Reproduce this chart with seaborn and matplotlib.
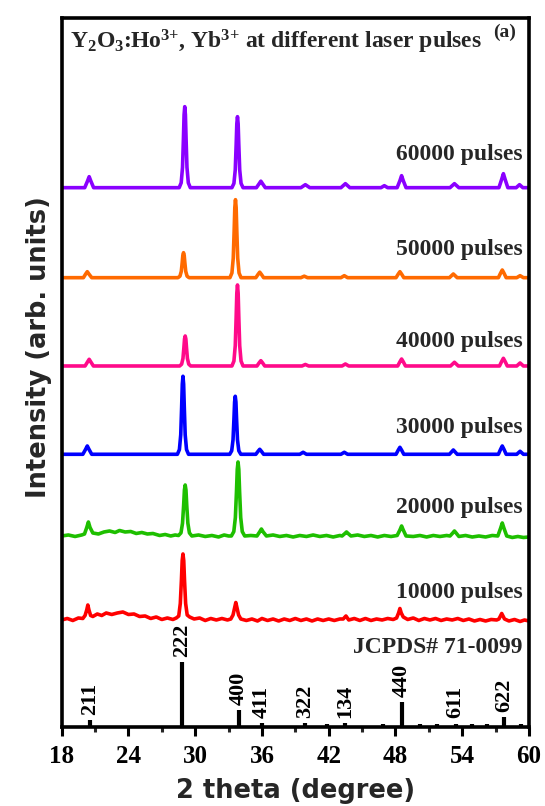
import matplotlib
matplotlib.use('Agg')
import matplotlib.pyplot as plt
import pandas as pd
import seaborn as sns

# ---------------- data ----------------
SERIES = ['60000 pulses', '50000 pulses', '40000 pulses',
          '30000 pulses', '20000 pulses', '10000 pulses']
COLORS = ['#8A00FF', '#FF6A00', '#FF0A8A', '#0000FF', '#1EBF00', '#FF0000']

# (2theta, intensity above the pattern's own baseline), arb. units
P60 = [(18.0, 0), (20.07, 0), (20.32, 6.6), (20.47, 11), (20.62, 6.6), (20.87, 0),
       (28.56, 0), (28.74, 4.9), (28.86, 20.3), (28.94, 48.6), (29.0, 72.9), (29.06, 81),
       (29.12, 72.9), (29.18, 48.6), (29.26, 20.3), (29.38, 4.9), (29.56, 0),
       (33.3, 0), (33.48, 4.3), (33.6, 17.8), (33.68, 42.6), (33.74, 63.9), (33.8, 71),
       (33.86, 63.9), (33.92, 42.6), (34.0, 17.8), (34.12, 4.3), (34.3, 0),
       (35.5, 0), (35.75, 4), (35.9, 6.5), (36.05, 4), (36.3, 0),
       (39.5, 0), (39.9, 3), (40.3, 0), (43.1, 0), (43.5, 4), (43.9, 0),
       (46.7, 0), (47.0, 2), (47.3, 0),
       (48.15, 0), (48.4, 7), (48.55, 12), (48.7, 7), (48.95, 0),
       (52.9, 0), (53.3, 4), (53.7, 0),
       (57.3, 0), (57.55, 8.5), (57.7, 14), (57.85, 8.5), (58.1, 0),
       (58.85, 0), (59.15, 3), (59.45, 0), (60.0, 0)]
P50 = [(18.0, 0), (19.95, 0), (20.15, 3.6), (20.3, 6), (20.45, 3.6), (20.7, 0),
       (28.45, 0), (28.63, 1.5), (28.75, 6.3), (28.83, 15), (28.89, 22.5), (28.95, 25),
       (29.01, 22.5), (29.07, 15), (29.15, 6.3), (29.27, 1.5), (29.45, 0),
       (33.12, 0), (33.3, 4.7), (33.42, 19.5), (33.5, 46.8), (33.56, 70.2), (33.62, 78),
       (33.68, 70.2), (33.74, 46.8), (33.82, 19.5), (33.94, 4.7), (34.12, 0),
       (35.45, 0), (35.65, 3.3), (35.8, 5.5), (35.95, 3.3), (36.15, 0),
       (39.5, 0), (39.8, 1.5), (40.1, 0), (43.1, 0), (43.4, 2), (43.7, 0),
       (48.05, 0), (48.25, 3.6), (48.4, 6), (48.55, 3.6), (48.75, 0),
       (52.85, 0), (53.2, 3.7), (53.55, 0),
       (57.25, 0), (57.45, 4.6), (57.6, 7.7), (57.75, 4.6), (57.95, 0),
       (58.9, 0), (59.2, 2), (59.5, 0), (60.0, 0)]
P40 = [(18.0, 0), (20.1, 0), (20.32, 4), (20.47, 6.7), (20.62, 4), (20.85, 0),
       (28.6, 0), (28.78, 1.8), (28.9, 7.5), (28.98, 18), (29.04, 27), (29.1, 30),
       (29.16, 27), (29.22, 18), (29.3, 7.5), (29.42, 1.8), (29.6, 0),
       (33.3, 0), (33.48, 4.9), (33.6, 20.3), (33.68, 48.6), (33.74, 72.9), (33.8, 81),
       (33.86, 72.9), (33.92, 48.6), (34.0, 20.3), (34.12, 4.9), (34.3, 0),
       (35.55, 0), (35.75, 3.2), (35.9, 5.3), (36.05, 3.2), (36.25, 0),
       (39.6, 0), (39.9, 1.5), (40.2, 0), (43.2, 0), (43.5, 2), (43.8, 0),
       (48.2, 0), (48.4, 4.2), (48.55, 7), (48.7, 4.2), (48.9, 0),
       (52.95, 0), (53.3, 3.7), (53.65, 0),
       (57.35, 0), (57.55, 4.6), (57.7, 7.7), (57.85, 4.6), (58.05, 0),
       (58.9, 0), (59.2, 3), (59.5, 0), (60.0, 0)]
P30 = [(18.0, 0), (19.9, 0), (20.15, 5), (20.3, 8.3), (20.45, 5), (20.7, 0),
       (28.4, 0), (28.58, 4.7), (28.7, 19.5), (28.78, 46.8), (28.84, 70.2), (28.9, 78),
       (28.96, 70.2), (29.02, 46.8), (29.1, 19.5), (29.22, 4.7), (29.4, 0),
       (33.1, 0), (33.28, 3.5), (33.4, 14.5), (33.48, 34.8), (33.54, 52.2), (33.6, 58),
       (33.66, 52.2), (33.72, 34.8), (33.8, 14.5), (33.92, 3.5), (34.1, 0),
       (35.45, 0), (35.65, 3), (35.8, 5), (35.95, 3), (36.15, 0),
       (39.4, 0), (39.7, 2), (40.0, 0), (43.1, 0), (43.4, 2), (43.7, 0),
       (48.05, 0), (48.25, 4.2), (48.4, 7), (48.55, 4.2), (48.75, 0),
       (52.85, 0), (53.2, 4.3), (53.55, 0),
       (57.25, 0), (57.45, 5), (57.6, 8.3), (57.75, 5), (57.95, 0),
       (58.9, 0), (59.2, 3), (59.5, 0), (60.0, 0)]
P20 = [(18.0, 0), (18.6, 1), (19.2, -0.5), (19.8, 1), (20.05, 2), (20.25, 8.4), (20.4, 14),
       (20.55, 8.4), (20.8, 3), (21.3, 2), (21.8, 4), (22.3, 5), (22.8, 3.5), (23.2, 5.5),
       (23.7, 4), (24.2, 4.5), (24.7, 2.5), (25.2, 3.5), (25.7, 2), (26.2, 2.5), (26.8, 0.5),
       (27.3, 1.5), (27.8, 0), (28.2, 1),
       (28.5, 0.5), (28.72, 3.1), (28.86, 12.8), (28.96, 30.6), (29.03, 45.9), (29.1, 51),
       (29.17, 45.9), (29.24, 30.6), (29.34, 12.8), (29.48, 3.1), (29.7, 0),
       (30.3, 1), (30.9, -0.5), (31.5, 0.5), (32.1, -1), (32.6, 1), (33.0, 0),
       (33.25, 0), (33.47, 4.4), (33.61, 18.5), (33.71, 44.4), (33.78, 66.6), (33.85, 74),
       (33.92, 66.6), (33.99, 44.4), (34.09, 18.5), (34.23, 4.4), (34.45, 0),
       (35.0, 0.5), (35.55, 0), (35.8, 4.2), (35.95, 7), (36.1, 4.2), (36.4, 0),
       (37.0, 1), (37.6, -0.5), (38.2, 0.5), (38.8, -1), (39.4, 0.5), (40.0, -0.5),
       (40.6, 1), (41.2, -0.5), (41.8, 0.5), (42.4, -1), (43.0, 0.5),
       (43.2, 0), (43.45, 2.4), (43.6, 4), (43.75, 2.4), (44.0, 0),
       (44.6, 1), (45.2, -0.5), (45.8, 0.5), (46.4, -1), (47.0, 0.5), (47.6, -0.5),
       (48.15, 0.5), (48.4, 6), (48.55, 10), (48.7, 6), (48.95, 0),
       (49.6, -0.5), (50.2, 0.5), (50.8, -1), (51.4, 0.5), (52.0, -0.5), (52.6, 0.5),
       (52.9, 0), (53.15, 3), (53.3, 5), (53.45, 3), (53.7, -0.5),
       (54.3, 0.5), (54.9, -1), (55.5, 0), (56.1, -1), (56.7, 0.5),
       (57.2, 0), (57.45, 7.8), (57.6, 13), (57.75, 7.8), (58.0, 0),
       (58.5, -1.5), (59.0, -0.5), (59.5, -1.5), (60.0, -1)]
P10 = [(18.0, 0), (18.5, 1.5), (19.0, -0.5), (19.5, 2), (19.9, 1.5), (20.1, 4.5),
       (20.25, 10), (20.35, 15), (20.45, 10), (20.6, 4.5), (20.8, 3.5),
       (21.2, 6), (21.6, 4.5), (22.0, 7), (22.5, 5.5), (23.0, 7), (23.5, 8), (24.0, 5.5),
       (24.5, 6), (25.0, 3.5), (25.5, 4), (26.0, 1.5), (26.5, 3), (27.0, 0.5), (27.5, 2),
       (28.0, 0.5),
       (28.3, 2), (28.52, 4), (28.66, 16.5), (28.76, 39.6), (28.83, 59.4), (28.9, 66),
       (28.97, 59.4), (29.04, 39.6), (29.14, 16.5), (29.28, 5), (29.5, 3),
       (29.9, 1), (30.4, 2), (30.9, -0.5), (31.4, 1.5), (31.9, 0), (32.4, 1.5), (32.9, 0),
       (33.2, 1), (33.4, 5), (33.52, 11), (33.65, 17.5), (33.78, 11), (33.9, 5), (34.1, 1),
       (34.6, -0.5), (35.1, 1), (35.6, -1), (36.0, 1.5), (36.5, -0.5), (37.0, 1),
       (37.5, -1), (38.0, 1), (38.5, -0.5), (39.0, 1.5), (39.5, -0.5), (40.0, 1),
       (40.5, -1), (41.0, 1), (41.5, -0.5), (42.0, 1), (42.5, -0.5), (43.0, 1),
       (43.3, 1), (43.55, 4), (43.8, 0), (44.3, 1.5), (44.8, -0.5), (45.3, 1.5),
       (45.8, -0.5), (46.3, 1), (46.8, 0), (47.3, 1.5), (47.8, 0.5),
       (48.1, 2), (48.28, 7), (48.4, 11.5), (48.52, 7), (48.7, 3), (49.1, 0.5),
       (49.6, 2), (50.1, -0.5), (50.6, 1.5), (51.1, 0), (51.6, 1.5), (52.1, -0.5),
       (52.6, 1), (53.1, 0), (53.6, 1.5), (54.1, -0.5), (54.6, 1), (55.1, -1),
       (55.6, 0.5), (56.1, -1), (56.6, 0.5), (57.1, 0),
       (57.3, 1), (57.55, 6.5), (57.8, 1), (58.2, -1), (58.7, 0.5), (59.2, -1.5),
       (59.6, 0), (60.0, -1)]
PATTERNS = [P60, P50, P40, P30, P20, P10]

# JCPDS 71-0099 reference lines
STICK_POS = [20.55, 28.8, 33.9, 36.0, 39.9, 41.85, 43.5, 46.9, 48.6,
             50.2, 51.75, 53.4, 54.9, 56.25, 57.75, 59.25]
STICK_H = [6.7, 65, 17, 4, 3.5, 2.5, 3.5, 2.5, 25, 2.5, 2.5, 3, 2.5, 2.5, 10, 2.5]
HKL = ['211', '222', '400', '411', '322', '134', '440', '611', '622']
HKL_POS = [20.55, 28.8, 33.9, 36.0, 39.9, 43.5, 48.6, 53.4, 57.75]

XTICKS = [18, 24, 30, 36, 42, 48, 54, 60]

# ---------------- layout / style ----------------
OFFSETS = [539, 449, 360.7, 272.4, 190.7, 106.7]
LABEL_Y = [566.7, 471.7, 379.7, 293.7, 213.7, 128.7]
YMAX = 708.7

sns.set_theme(style='ticks')
plt.rcParams['font.family'] = ['Liberation Serif', 'DejaVu Serif']
plt.rcParams['font.weight'] = 'bold'
plt.rcParams['mathtext.fontset'] = 'custom'
plt.rcParams['mathtext.rm'] = 'Liberation Serif:bold'
plt.rcParams['mathtext.it'] = 'Liberation Serif:bold'
plt.rcParams['mathtext.bf'] = 'Liberation Serif:bold'

fig = plt.figure(figsize=(5.45, 8.06), dpi=100)
ax = fig.add_axes([0.1132, 0.0984, 0.8574, 0.8793])

rows = []
for name, pat, off in zip(SERIES, PATTERNS, OFFSETS):
    for x, y in pat:
        rows.append({'x': x, 'y': y + off, 'series': name})
df = pd.DataFrame(rows)

sns.lineplot(data=df, x='x', y='y', hue='series', hue_order=SERIES,
             palette=dict(zip(SERIES, COLORS)), estimator=None, sort=False,
             legend=False, linewidth=2.6, ax=ax)
for ln in ax.lines:
    ln.set_solid_joinstyle('round')

ax.vlines(STICK_POS, 0, STICK_H, color='black', linewidth=3)
stick_h = dict(zip(STICK_POS, STICK_H))
for lab, xp in zip(HKL, HKL_POS):
    ax.text(xp, max(stick_h[xp], 4) + 5, lab, rotation=90, ha='center', va='bottom',
            fontsize=16, fontweight='bold', color='black')

for name, ly in zip(SERIES, LABEL_Y):
    ax.text(59.45, ly, name, ha='right', va='baseline', fontsize=17, fontweight='bold')
ax.text(59.45, 73.7, 'JCPDS# 71-0099', ha='right', va='baseline', fontsize=17,
        fontweight='bold')

ax.text(18.75, 678.4, r'Y$_2$O$_3$:Ho$^{3{+}}$, Yb$^{3{+}}$ at different laser pulses',
        ha='left', va='baseline', fontsize=17, fontweight='bold')
ax.text(56.8, 689.4, '(a)', ha='left', va='baseline', fontsize=14, fontweight='bold')

ax.set_xlim(18, 60)
ax.set_ylim(0, YMAX)
ax.set_xticks(XTICKS)
ax.set_xticks(range(18, 61, 3), minor=True)
ax.set_yticks([])
ax.tick_params(axis='x', which='major', direction='out', length=6.5, width=2.2,
               labelsize=18, pad=7, colors='black')
ax.tick_params(axis='x', which='minor', direction='out', length=3.6, width=2.2)
for lbl in ax.get_xticklabels():
    lbl.set_fontweight('bold')
for sp in ax.spines.values():
    sp.set_visible(True)
    sp.set_linewidth(2.6)
    sp.set_color('black')

ax.set_xlabel('2 theta (degree)', family=['DejaVu Sans'], fontsize=18.5,
              fontweight='bold', labelpad=7)
ax.set_ylabel('Intensity (arb. units)', family=['DejaVu Sans'], fontsize=18.5,
              fontweight='bold', labelpad=7, y=0.536)

fig.savefig('out.png', dpi=100)
